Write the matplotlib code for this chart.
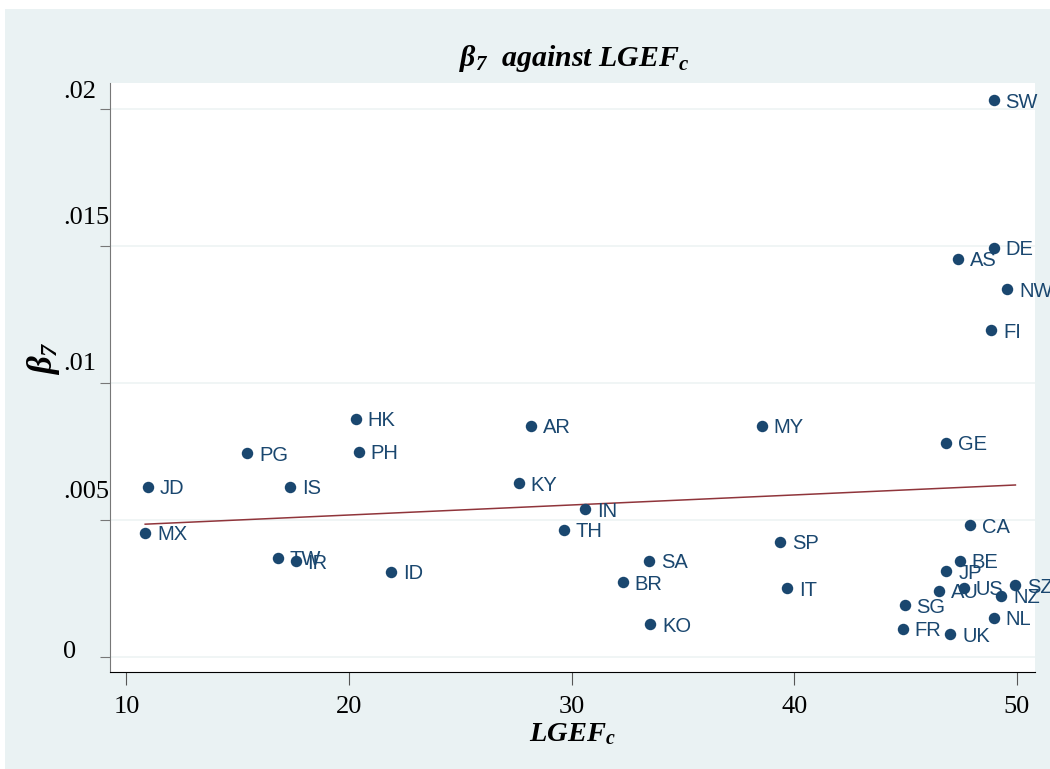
import numpy as np
import matplotlib
matplotlib.use("Agg")
import matplotlib.pyplot as plt
from matplotlib.patches import Rectangle

# country codes with LGEF_c (x) and beta_7 (y)
codes = ["SW", "DE", "AS", "NW", "FI", "GE", "CA", "BE", "JP", "AU", "US", "SZ",
         "NZ", "SG", "FR", "UK", "NL", "HK", "PH", "PG", "JD", "IS", "MX", "TW",
         "IR", "ID", "AR", "KY", "IN", "TH", "SA", "BR", "KO", "MY", "SP", "IT"]
lgef = [48.96, 48.96, 47.36, 49.57, 48.84, 46.80, 47.88, 47.43, 46.83, 46.50, 47.61, 49.93,
        49.30, 44.95, 44.86, 47.01, 48.96, 20.31, 20.43, 15.42, 10.98, 17.35, 10.84, 16.79,
        17.60, 21.88, 28.17, 27.62, 30.59, 29.65, 33.48, 32.29, 33.53, 38.53, 39.35, 39.69]
beta7 = [0.02033, 0.01494, 0.01453, 0.01342, 0.01193, 0.00782, 0.00482, 0.00351, 0.00314,
         0.00242, 0.00253, 0.00263, 0.00223, 0.00190, 0.00103, 0.00083, 0.00143, 0.00869,
         0.00749, 0.00743, 0.00622, 0.00622, 0.00454, 0.00362, 0.00350, 0.00311, 0.00844,
         0.00634, 0.00540, 0.00464, 0.00351, 0.00273, 0.00120, 0.00844, 0.00421, 0.00251]

yticks = [0, 0.005, 0.01, 0.015, 0.02]
ytick_labels = ["0", ".005", ".01", ".015", ".02"]
xticks = [10, 20, 30, 40, 50]

navy = "#1A476F"
maroon = "#90353B"
bg = "#EAF2F3"

plt.rcParams["mathtext.fontset"] = "custom"
plt.rcParams["mathtext.rm"] = "Liberation Serif:bold:italic"
plt.rcParams["mathtext.it"] = "Liberation Serif:bold:italic"
plt.rcParams["mathtext.bf"] = "Liberation Serif:bold:italic"

fig = plt.figure(figsize=(10.5, 7.69), dpi=100, facecolor="white")
fig.patches.append(Rectangle((5 / 1050, 0), 1, 1 - 9 / 769, transform=fig.transFigure,
                             facecolor=bg, edgecolor="none", zorder=-10))

ax = fig.add_axes([110 / 1050, 1 - 672 / 769, 925 / 1050, 589 / 769])
ax.set_facecolor("white")
ax.set_xlim(9.26, 50.81)
ax.set_ylim(-0.000547, 0.02095)

for v in yticks:
    ax.axhline(v, color="#EEF4F4", lw=1.2, zorder=0)

x = np.array(lgef)
y = np.array(beta7)
ax.scatter(x, y, s=68, color=navy, zorder=3, linewidths=0)
for c, xi, yi in zip(codes, x, y):
    ax.annotate(c, (xi, yi), xytext=(8.5, -1.5), textcoords="offset points",
                ha="left", va="center", fontsize=14.5, color=navy,
                family="Liberation Sans", zorder=4)

# linear fit over the observed range
slope, icpt = np.polyfit(x, y, 1)
xf = np.array([x.min(), x.max()])
ax.plot(xf, icpt + slope * xf, color=maroon, lw=1.1, zorder=2)

for side in ["top", "right"]:
    ax.spines[side].set_visible(False)
ax.spines["left"].set_color("#777777")
ax.spines["bottom"].set_color("black")

ax.set_xticks(xticks)
ax.set_xticklabels([str(t) for t in xticks], family="Liberation Serif", fontsize=19)
ax.tick_params(axis="x", length=9, color="#555555", pad=8)
ax.set_yticks(yticks)
ax.set_yticklabels([])
ax.tick_params(axis="y", length=7.2, color="#777777")

# Stata-style y labels sitting left-aligned above their ticks
lift = [5, 28, 19, 28, 17]
for v, lbl, d in zip(yticks, ytick_labels, lift):
    ax.annotate(lbl, (-(110 - 63) / 925, v), xycoords=("axes fraction", "data"),
                xytext=(0, d * 0.72), textcoords="offset points",
                ha="left", va="center", family="Liberation Serif", fontsize=19,
                annotation_clip=False)

ax.set_xlabel(r"LGEF$_c$", family="Liberation Serif", fontsize=20.5,
              fontweight="bold", style="italic")
ax.xaxis.set_label_coords(0.5, -(721 - 672) / 589)
ax.set_ylabel(r"$\beta_7$", family="Liberation Serif", fontsize=25,
              fontweight="bold", style="italic")
ax.yaxis.set_label_coords(-(110 - 62) / 925, (672 - 358) / 589)

fig.text(574 / 1050, 1 - 58 / 769, r"$\beta_7$  against LGEF$_c$",
         family="Liberation Serif", fontsize=21.5, fontweight="bold", style="italic",
         ha="center", va="center")

fig.savefig("out.png", dpi=100)
